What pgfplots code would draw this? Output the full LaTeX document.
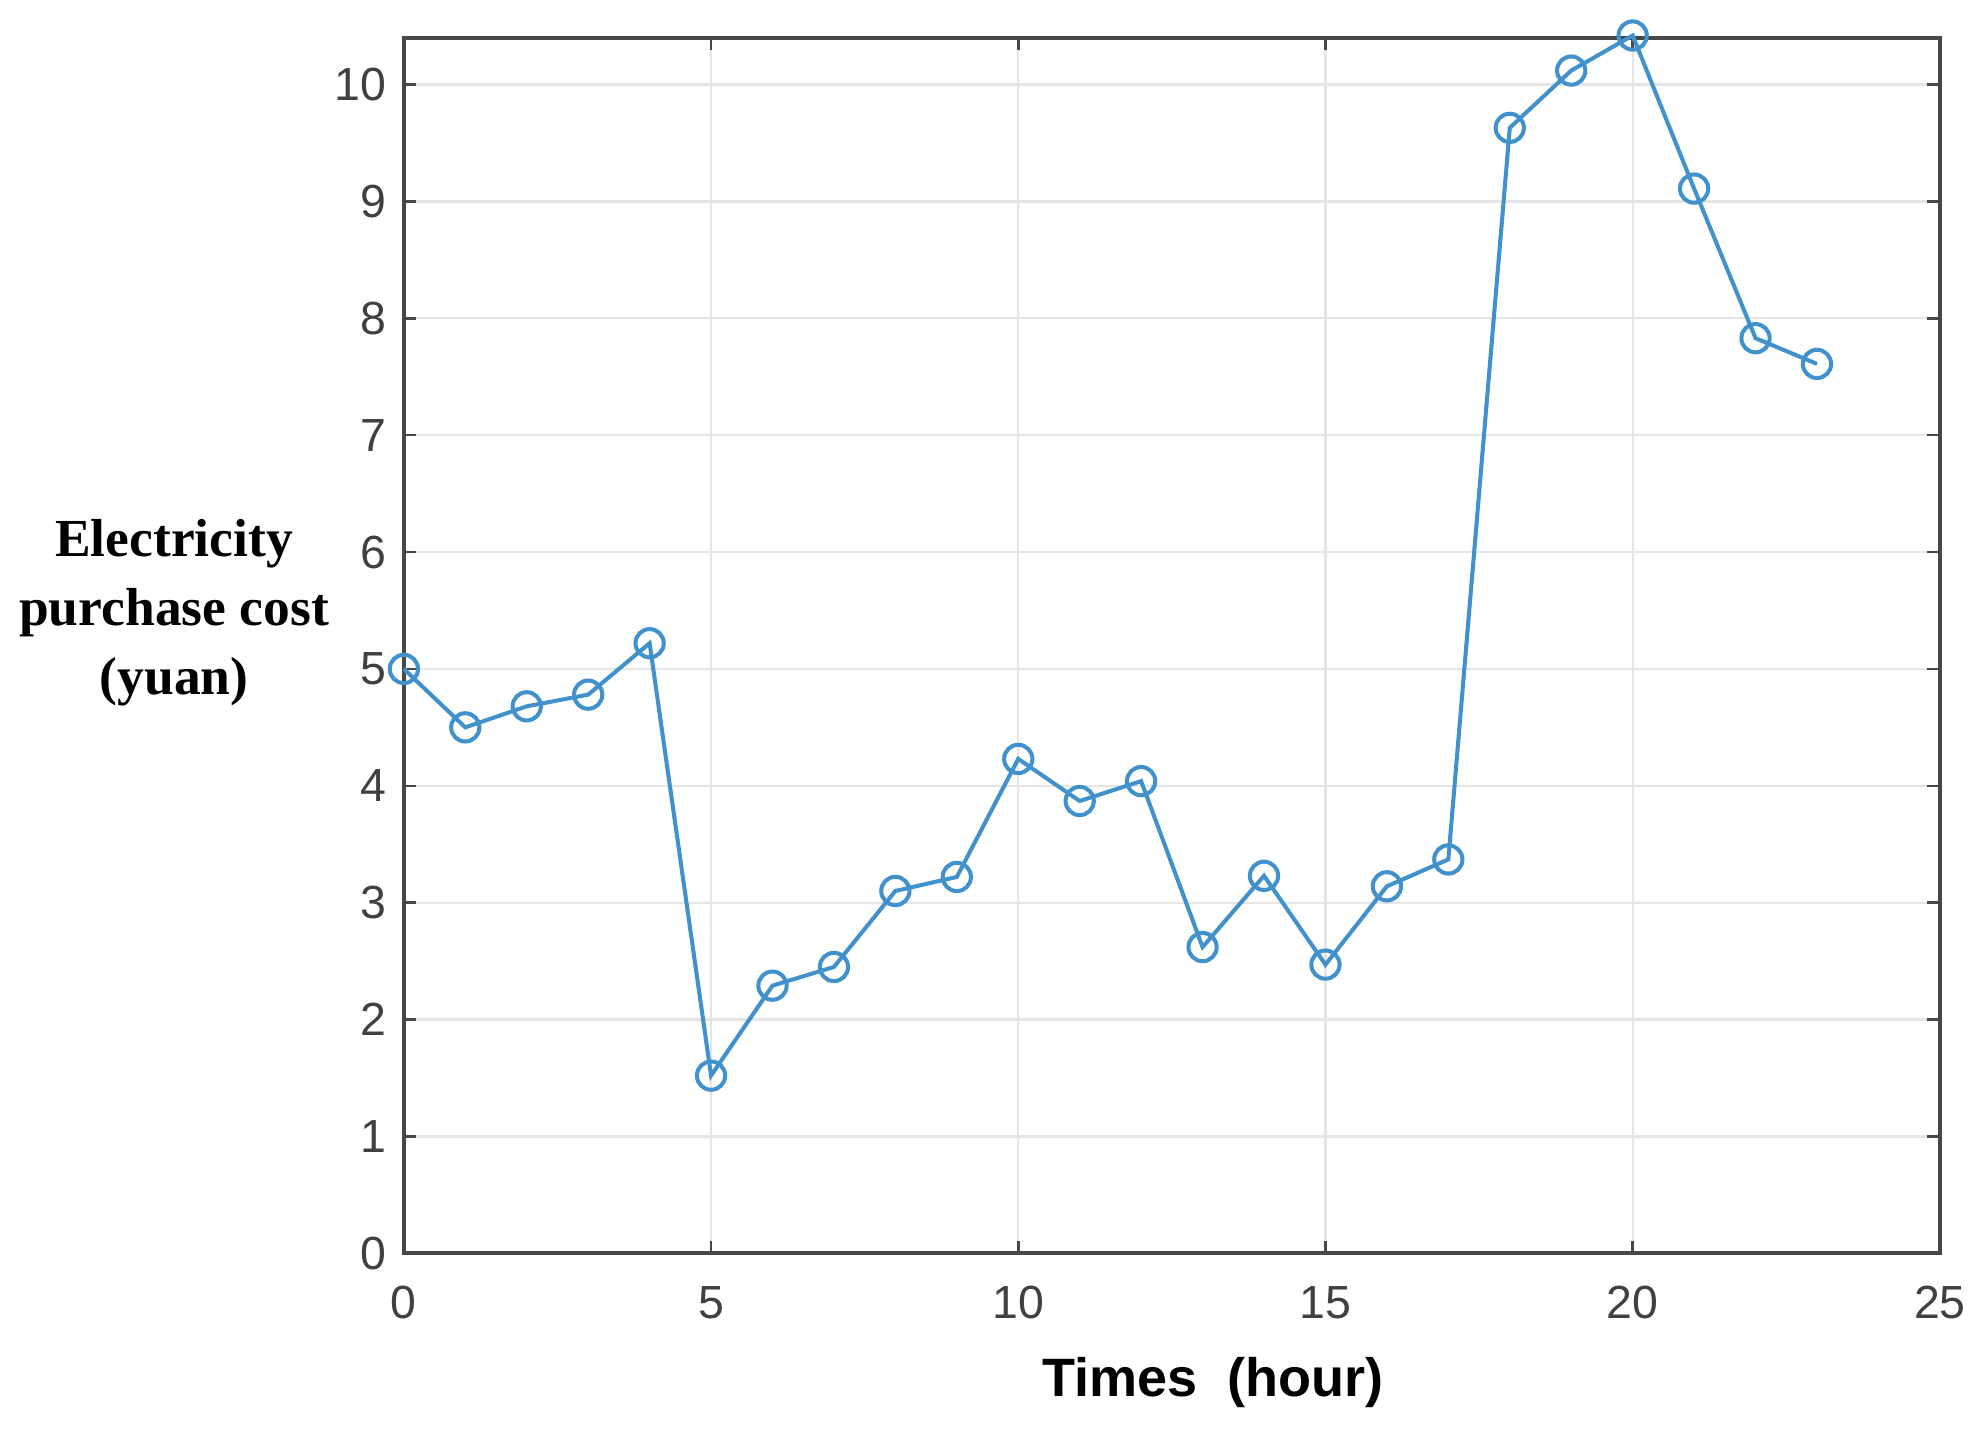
\documentclass[border=0pt]{standalone}
\usepackage{fontspec}
\setmainfont{Liberation Sans}
\newfontfamily\serifb{Liberation Serif}
\usepackage{pgfplots}
\pgfplotsset{compat=1.18}
\definecolor{mblue}{rgb}{0.25,0.57,0.80}
\definecolor{axgray}{rgb}{0.28,0.28,0.28}
\definecolor{tickgray}{rgb}{0.25,0.25,0.25}
\begin{document}
\begin{tikzpicture}
\begin{axis}[
  at={(0,0)}, anchor=south west,
  scale only axis, width=304.25pt, height=240.75pt,
  xmin=0, xmax=25, ymin=0, ymax=10.4,
  xtick={0,5,...,25}, ytick={0,1,...,10},
  /pgf/number format/assume math mode=true,
  tick label style={font=\fontsize{9.2}{10}\selectfont, text=tickgray},
  xticklabel style={yshift=-3pt},
  tick align=inside, major tick length=2.5pt,
  tick style={axgray, line width=0.5pt},
  axis line style={axgray, line width=0.75pt},
  grid=major, major grid style={gray!20, line width=0.45pt},
  clip=false,
  xlabel={Times\ \ (hour)},
  xlabel style={font=\fontsize{10.7}{12}\selectfont\bfseries, at={(axis description cs:0.527,-0.106)}, anchor=center},
  ylabel={Electricity\\purchase cost\\(yuan)},
  ylabel style={font=\serifb\fontsize{10.6}{13.75}\selectfont\bfseries, rotate=-90, align=center, at={(axis description cs:-0.1496,0.527)}, anchor=center},
]
\addplot[mblue, line width=0.8pt, mark=o, mark size=2.8pt, mark options={line width=0.8pt}] coordinates {
(0,5.00) (1,4.50) (2,4.68) (3,4.78) (4,5.22) (5,1.52) (6,2.29) (7,2.45)
(8,3.10) (9,3.22) (10,4.23) (11,3.87) (12,4.04) (13,2.62) (14,3.23) (15,2.47)
(16,3.14) (17,3.37) (18,9.63) (19,10.12) (20,10.42) (21,9.11) (22,7.83) (23,7.61)
};
\end{axis}
\pgfresetboundingbox
\path (-80pt,-35.5pt) rectangle (312pt,248.25pt);
\end{tikzpicture}
\end{document}
